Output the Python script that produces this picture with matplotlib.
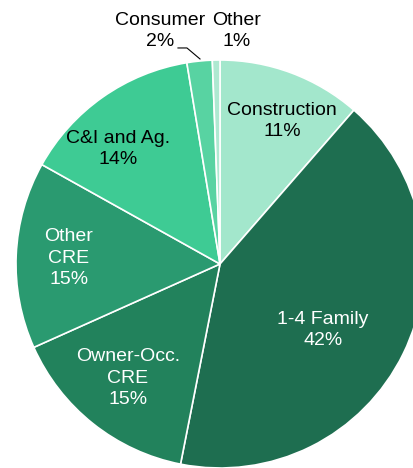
import matplotlib
matplotlib.use("Agg")
import matplotlib.pyplot as plt

# loan mix, clockwise from 12 o'clock
categories = ["Construction", "1-4 Family", "Owner-Occ.\nCRE", "Other\nCRE",
              "C&I and Ag.", "Consumer", "Other"]
shares = [11.4, 41.7, 15.2, 14.8, 14.3, 2.0, 0.6]
pct_labels = ["11%", "42%", "15%", "15%", "14%", "2%", "1%"]
colors = ["#a3e7cc", "#1e6e50", "#22825c", "#2a9a70", "#3ecb94", "#58d3a2", "#aee9d1"]
text_colors = ["black", "white", "white", "white", "black", "black", "black"]
label_pos = [(0.304, 0.701), (0.505, -0.324), (-0.451, -0.559), (-0.740, 0.029),
             (-0.50, 0.564), (-0.294, 1.142), (0.083, 1.142)]

plt.rcParams['font.family'] = ['Liberation Sans', 'DejaVu Sans']

fig = plt.figure(figsize=(4.14, 4.68), dpi=100)
ax = fig.add_axes([16 / 414, 0, 408 / 414, 408 / 468])
ax.pie(shares, colors=colors, startangle=90, counterclock=False, radius=1,
       wedgeprops=dict(edgecolor="white", linewidth=1.2))
ax.set_xlim(-1, 1)
ax.set_ylim(-1, 1)
ax.set_aspect("equal")
ax.axis("off")

for cat, pct, (x, y), tc in zip(categories, pct_labels, label_pos, text_colors):
    ax.text(x, y, cat + "\n" + pct, ha="center", va="center", color=tc,
            fontsize=14, linespacing=1.35, clip_on=False)

# leader line for the Consumer slice
ax.plot([-0.206, -0.162, -0.098], [1.059, 1.059, 1.005], color="black",
        linewidth=0.8, clip_on=False)

fig.savefig("out.png", dpi=100)
